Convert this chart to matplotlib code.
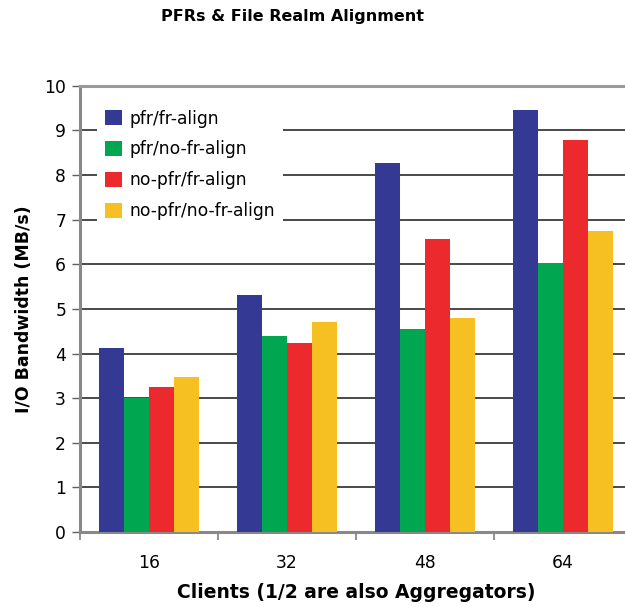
import matplotlib.pyplot as plt
import numpy as np

clients = ["16", "32", "48", "64"]
series = ["pfr/fr-align", "pfr/no-fr-align", "no-pfr/fr-align", "no-pfr/no-fr-align"]
pfr_fr = [4.12, 5.31, 8.28, 9.46]
pfr_nofr = [3.00, 4.40, 4.55, 6.04]
nopfr_fr = [3.25, 4.24, 6.57, 8.79]
nopfr_nofr = [3.47, 4.71, 4.80, 6.75]
colors = ["#343a94", "#00a650", "#ec2a2e", "#f6bf22"]

fig = plt.figure(figsize=(6.25, 6.07), dpi=100)
ax = fig.add_axes([0.128, 0.1236, 0.883, 0.735])

x = np.arange(len(clients))
width = 0.182
for i, (vals, name) in enumerate(zip([pfr_fr, pfr_nofr, nopfr_fr, nopfr_nofr], series)):
    ax.bar(x + (i - 1.5) * width, vals, width, color=colors[i], label=name, zorder=3)

ax.set_xlim(-0.5, 3.5)
ax.set_ylim(0, 10)
ax.set_yticks(range(0, 11))
ax.yaxis.grid(True, color="#3a3a3a", linewidth=1.3, zorder=0)
ax.set_axisbelow(True)

ax.set_xticks(x)
ax.set_xticklabels(clients, fontsize=12.3)
ax.set_xticks(np.arange(-0.5, 4, 1), minor=True)
ax.tick_params(axis="x", which="major", length=0, pad=16)
ax.tick_params(axis="x", which="minor", length=6, color="#808080", width=1.2)
ax.tick_params(axis="y", length=6, color="#606060", width=1, labelsize=12.3, pad=4)

for side in ["left", "bottom"]:
    ax.spines[side].set_color("#888888")
    ax.spines[side].set_linewidth(2.2)
ax.spines["right"].set_visible(False)
ax.spines["top"].set_color("#999999")
ax.spines["top"].set_linewidth(2.2)

ax.set_ylabel("I/O Bandwidth (MB/s)", fontsize=12.5, fontweight="bold", labelpad=8)
ax.set_xlabel("Clients (1/2 are also Aggregators)", fontsize=13.5, fontweight="bold", labelpad=8)
fig.text(0.468, 0.972, "PFRs & File Realm Alignment", fontsize=11.5, fontweight="bold",
         ha="center", va="center")

leg = ax.legend(loc="upper left", bbox_to_anchor=(0.015, 0.985), fontsize=12.3,
                frameon=True, framealpha=1, edgecolor="white", facecolor="white",
                handlelength=1.0, handleheight=1.0, labelspacing=0.75, borderpad=0.5,
                handletextpad=0.4, fancybox=False)
leg.get_frame().set_linewidth(0)

fig.savefig("out.png", dpi=100)
